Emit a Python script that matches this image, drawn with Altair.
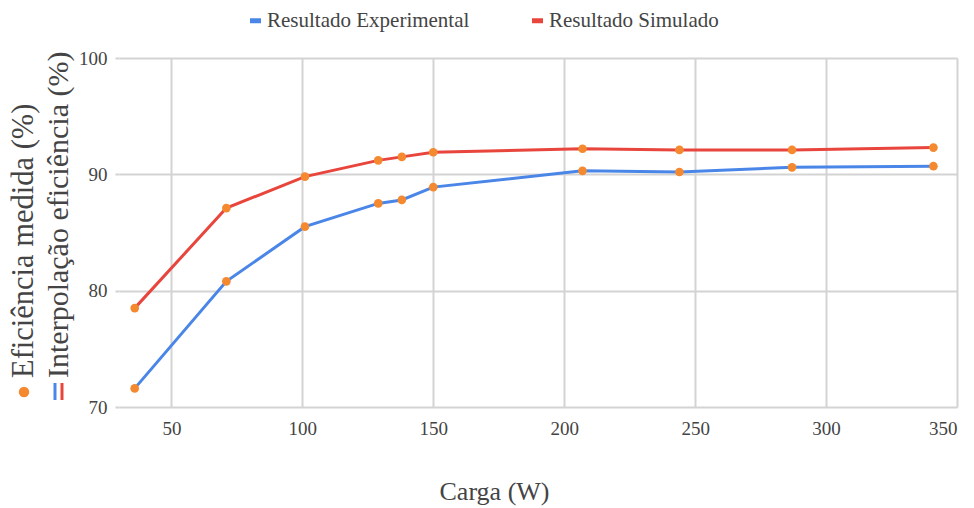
import altair as alt
import pandas as pd

# ---- data ----
carga = [36, 71, 101, 129, 138, 150, 207, 244, 287, 341]
experimental = [71.6, 80.8, 85.5, 87.5, 87.8, 88.9, 90.3, 90.2, 90.6, 90.7]
simulado = [78.5, 87.1, 89.8, 91.2, 91.5, 91.9, 92.2, 92.1, 92.1, 92.3]
series_names = ["Resultado Experimental", "Resultado Simulado"]
series_colors = ["#4A86E8", "#E8453C"]
point_color = "#F4892F"
x_ticks = [50, 100, 150, 200, 250, 300, 350]
y_ticks = [70, 80, 90, 100]
x_title = "Carga (W)"
y_title_lines = ["Eficiência medida (%)", "Interpolação eficiência (%)"]

FONT = "'Liberation Serif', 'DejaVu Serif', serif"
TXT = "#444444"
GRID = "#d3d3d3"

df = pd.DataFrame({
    "carga": carga + carga,
    "ef": experimental + simulado,
    "serie": [series_names[0]] * len(carga) + [series_names[1]] * len(carga),
})

x_enc = alt.X(
    "carga:Q",
    scale=alt.Scale(domain=[30, 350], nice=False, zero=False),
    axis=alt.Axis(
        values=x_ticks, title=x_title, grid=True, ticks=False, domain=False,
        labelFontSize=19, labelPadding=12, labelFont=FONT, labelColor=TXT,
        titleFont=FONT, titleFontSize=26, titleFontWeight="normal", titleColor=TXT,
        titleAnchor="start", titleAlign="center", titleBaseline="alphabetic",
        titleX=375, titleY=92,
    ),
)
y_enc = alt.Y(
    "ef:Q",
    scale=alt.Scale(domain=[70, 100], nice=False, zero=False),
    axis=alt.Axis(
        values=y_ticks, title=None, grid=True, ticks=True, tickSize=4, tickColor=GRID,
        tickWidth=2, domain=False, labelFontSize=19, labelPadding=8, labelFont=FONT,
        labelColor=TXT,
    ),
)

lines = alt.Chart(df).mark_line(strokeWidth=3).encode(
    x=x_enc,
    y=y_enc,
    color=alt.Color(
        "serie:N",
        scale=alt.Scale(domain=series_names, range=series_colors),
        legend=alt.Legend(
            title=None, orient="none", direction="horizontal",
            legendX=126, legendY=-48, columnPadding=52, labelLimit=0,
            symbolType="stroke", symbolSize=121, symbolStrokeWidth=5,
            labelFont=FONT, labelFontSize=21, labelColor=TXT, labelOffset=1,
        ),
    ),
)

points = alt.Chart(df).mark_circle(size=75, opacity=1, color=point_color).encode(
    x="carga:Q", y="ef:Q"
)

one = pd.DataFrame({"t": [0]})
title1 = alt.Chart(pd.DataFrame({"t": [y_title_lines[0]]})).mark_text(
    angle=270, align="left", baseline="alphabetic", fontSize=30.5, font=FONT, color=TXT
).encode(x=alt.value(-86), y=alt.value(320), text="t:N")
title2 = alt.Chart(pd.DataFrame({"t": [y_title_lines[1]]})).mark_text(
    angle=270, align="left", baseline="alphabetic", fontSize=30, font=FONT, color=TXT
).encode(x=alt.value(-51), y=alt.value(320), text="t:N")

dot = alt.Chart(one).mark_circle(size=110, opacity=1, color=point_color).encode(
    x=alt.value(-95), y=alt.value(334)
)
rule_b = alt.Chart(one).mark_rule(strokeWidth=3, color=series_colors[0]).encode(
    x=alt.value(-64), y=alt.value(325), y2=alt.value(342)
)
rule_r = alt.Chart(one).mark_rule(strokeWidth=3, color=series_colors[1]).encode(
    x=alt.value(-57), y=alt.value(325), y2=alt.value(342)
)

chart = alt.layer(lines, points, title1, title2, dot, rule_b, rule_r).properties(
    width=838,
    height=349,
    padding={"left": 119, "top": 58, "right": 17, "bottom": 101},
    autosize="none",
    background="white",
).configure_view(stroke=None).configure_axis(
    gridColor=GRID, gridWidth=2
)

chart.save("out.html", embed_options={"renderer": "svg", "actions": False})
